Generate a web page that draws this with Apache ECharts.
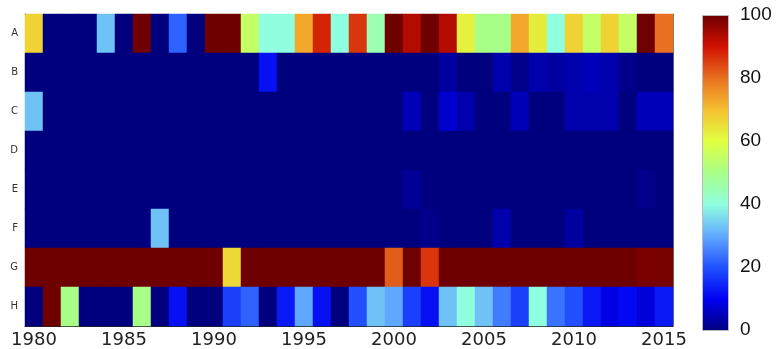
<!DOCTYPE html>
<html>
<head>
<meta charset="utf-8">
<script src="https://cdn.jsdelivr.net/npm/echarts@6/dist/echarts.min.js"></script>
<style>
  html, body { margin: 0; padding: 0; background: #fff; }
  #chart { width: 777px; height: 349px; }
</style>
</head>
<body>
<div id="chart"></div>
<script>
const years = [];
for (let y = 1980; y <= 2015; y++) years.push(String(y));

const rows = ['A', 'B', 'C', 'D', 'E', 'F', 'G', 'H'];

// one value per year, 1980..2015
const valuesA = [67, 0, 0, 0, 33, 0, 100, 0, 22, 0, 100, 100, 55, 40, 40, 73, 88, 40, 86, 45,
  100, 93, 100, 93, 62, 50, 50, 73, 63, 40, 67, 55, 67, 55, 100, 80];
const valuesB = [0, 0, 0, 0, 0, 0, 0, 0, 0, 0, 0, 0, 0, 12, 0, 0, 0, 0, 0, 0,
  0, 0, 0, 3, 0, 0, 4, 1, 4, 3, 4, 5, 4, 1, 0, 0];
const valuesC = [33, 0, 0, 0, 0, 0, 0, 0, 0, 0, 0, 0, 0, 0, 0, 0, 0, 0, 0, 0,
  0, 5, 0, 7, 4, 0, 0, 5, 0, 0, 4, 4, 4, 0, 5, 5];
const valuesD = [0, 0, 0, 0, 0, 0, 0, 0, 0, 0, 0, 0, 0, 0, 0, 0, 0, 0, 0, 0,
  0, 0, 0, 0, 0, 0, 0, 0, 0, 0, 0, 0, 0, 0, 0, 0];
const valuesE = [0, 0, 0, 0, 0, 0, 0, 0, 0, 0, 0, 0, 0, 0, 0, 0, 0, 0, 0, 0,
  0, 2, 0, 0, 0, 0, 0, 0, 0, 0, 0, 0, 0, 0, 1, 0];
const valuesF = [0, 0, 0, 0, 0, 0, 0, 33, 0, 0, 0, 0, 0, 0, 0, 0, 0, 0, 0, 0,
  0, 0, 1, 0, 0, 0, 4, 0, 0, 0, 3, 0, 0, 0, 0, 0];
const valuesG = [100, 100, 100, 100, 100, 100, 100, 100, 100, 100, 100, 66, 100, 100, 100, 100, 100, 100, 100, 100,
  82, 100, 86, 100, 100, 100, 100, 100, 100, 100, 100, 100, 100, 100, 99, 99];
const valuesH = [0, 100, 50, 0, 0, 0, 50, 0, 12, 0, 0, 18, 22, 0, 13, 30, 12, 0, 20, 33,
  30, 18, 12, 33, 40, 33, 25, 18, 40, 24, 20, 13, 9, 11, 8, 13];

const colorTicks = [0, 20, 40, 60, 80, 100];

const jet = ['#00007f', '#0000f0', '#2050ff', '#60a8ff', '#90ffe0', '#a8ff88',
  '#e0ff40', '#f5c030', '#e87020', '#d01000', '#6e0000'];

const allRows = [valuesA, valuesB, valuesC, valuesD, valuesE, valuesF, valuesG, valuesH];
const cells = [];
allRows.forEach((vals, r) => {
  vals.forEach((v, i) => cells.push([i, r, v]));
});

const everyFive = (i) => (1980 + i) % 5 === 0;

// colorbar gradient, top (100) to bottom (0)
const barStops = jet.map((c, i) => ({ offset: 1 - i / (jet.length - 1), color: c })).reverse();

const chart = echarts.init(document.getElementById('chart'));

chart.setOption({
  animation: false,
  backgroundColor: '#fff',
  grid: [
    { left: 25, top: 14, width: 648, height: 312 },
    { left: 702, top: 15, width: 26, height: 315 }
  ],
  xAxis: [
    {
      type: 'category',
      data: years,
      gridIndex: 0,
      position: 'bottom',
      axisLine: { lineStyle: { color: '#222', width: 1 } },
      axisTick: { inside: true, length: 4, alignWithLabel: true, interval: everyFive, lineStyle: { color: '#000' } },
      axisLabel: {
        interval: everyFive,
        margin: 5,
        fontFamily: 'DejaVu Sans',
        fontSize: 18,
        color: '#222'
      },
      splitLine: { show: false }
    },
    {
      type: 'category',
      data: years,
      gridIndex: 0,
      position: 'top',
      axisLine: { lineStyle: { color: '#888', width: 1 } },
      axisTick: { inside: true, length: 4, alignWithLabel: true, interval: everyFive, lineStyle: { color: '#000' } },
      axisLabel: { show: false },
      splitLine: { show: false }
    },
    { type: 'value', gridIndex: 1, show: false, min: 0, max: 1 }
  ],
  yAxis: [
    {
      type: 'category',
      data: rows,
      inverse: true,
      gridIndex: 0,
      position: 'left',
      axisLine: { lineStyle: { color: '#222', width: 1 } },
      axisTick: { inside: true, length: 4, alignWithLabel: true, lineStyle: { color: '#000' } },
      axisLabel: { margin: 7, fontFamily: 'DejaVu Sans', fontSize: 10, color: '#333' },
      splitLine: { show: false }
    },
    {
      type: 'category',
      data: rows,
      inverse: true,
      gridIndex: 0,
      position: 'right',
      axisLine: { lineStyle: { color: '#777', width: 1 } },
      axisTick: { inside: true, length: 4, alignWithLabel: true, lineStyle: { color: '#000' } },
      axisLabel: { show: false },
      splitLine: { show: false }
    },
    {
      type: 'value',
      gridIndex: 1,
      position: 'right',
      min: colorTicks[0],
      max: colorTicks[colorTicks.length - 1],
      interval: 20,
      axisLine: { show: false },
      axisTick: { show: false },
      splitLine: { show: false },
      axisLabel: { margin: 12, fontFamily: 'Liberation Sans', fontSize: 19, color: '#111' }
    }
  ],
  visualMap: {
    type: 'continuous',
    show: false,
    min: 0,
    max: 100,
    seriesIndex: 0,
    inRange: { color: jet }
  },
  graphic: [
    {
      type: 'rect',
      left: 702,
      top: 15,
      shape: { width: 26, height: 315 },
      style: {
        fill: new echarts.graphic.LinearGradient(0, 0, 0, 1, barStops),
        stroke: '#bbb',
        lineWidth: 1
      },
      z: 10
    }
  ],
  series: [
    {
      type: 'heatmap',
      xAxisIndex: 0,
      yAxisIndex: 0,
      data: cells,
      itemStyle: { borderWidth: 0 },
      emphasis: { disabled: true }
    }
  ]
});
</script>
</body>
</html>
